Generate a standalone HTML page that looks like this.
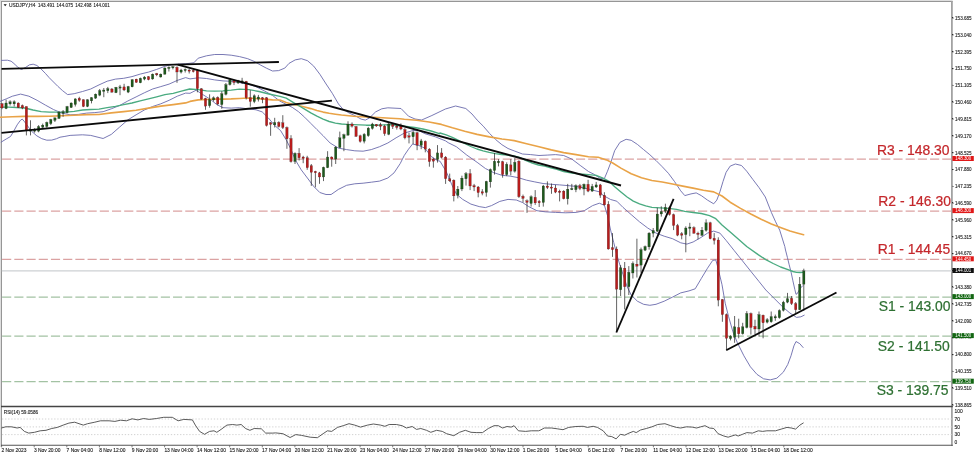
<!DOCTYPE html>
<html lang="en"><head><meta charset="utf-8"><title>USDJPY H4</title>
<style>html,body{margin:0;padding:0;background:#fff}body{width:975px;height:456px;overflow:hidden}svg{display:block}text{font-family:"Liberation Sans",Arial,sans-serif}.t{font-size:4.9px;fill:#222}.b{font-size:13.9px}.h{stroke:#222;stroke-width:0.12px}.bx{font-size:4.7px;fill:#fff}</style>
</head><body>
<svg width="975" height="456" viewBox="0 0 975 456">
<rect width="975" height="456" fill="#fff"/>
<rect x="0" y="0" width="952.6" height="1.1" fill="#dedede"/>
<rect x="0" y="0" width="1.1" height="447" fill="#dedede"/>
<g fill="none">
<path d="M1 1.5H952.6" stroke="#8a8a8a" stroke-width="0.9"/>
<path d="M1.5 1V446" stroke="#8a8a8a" stroke-width="0.9"/>
<path d="M951.9 1V446" stroke="#a2a2a2" stroke-width="1.8"/>
<path d="M1 406.5H952.8" stroke="#444" stroke-width="1.3"/>
<path d="M1 445.3H952.8" stroke="#555" stroke-width="1.1"/>
</g>
<path d="M1.8 159.0H952" stroke="#dba2a2" stroke-width="1.25" fill="none" stroke-dasharray="9.15 3.06" stroke-dashoffset="11.92"/>
<path d="M1.8 211.1H952" stroke="#dba2a2" stroke-width="1.25" fill="none" stroke-dasharray="9.15 3.06" stroke-dashoffset="11.92"/>
<path d="M1.8 259.3H952" stroke="#dba2a2" stroke-width="1.25" fill="none" stroke-dasharray="9.15 3.06" stroke-dashoffset="11.92"/>
<path d="M1.8 297.1H952" stroke="#a3c2a3" stroke-width="1.25" fill="none" stroke-dasharray="9.15 3.06" stroke-dashoffset="11.92"/>
<path d="M1.8 336.1H952" stroke="#a3c2a3" stroke-width="1.25" fill="none" stroke-dasharray="9.15 3.06" stroke-dashoffset="11.92"/>
<path d="M1.8 381.7H952" stroke="#a3c2a3" stroke-width="1.25" fill="none" stroke-dasharray="9.15 3.06" stroke-dashoffset="11.92"/>
<path d="M1.8 270.9H952" stroke="#cdd0d3" stroke-width="1.25" fill="none"/>
<g fill="none" stroke-linejoin="round" stroke-linecap="round">
<polyline points="1.5,60.4 7.4,60.2 11.1,61.2 14.8,64.2 17.8,67.3 21.5,69.5 25.8,67.3 29.5,64.8 33.2,64.2 36.9,65.5 40.6,68.5 45.5,73.5 49.2,77.7 53.5,82.0 57.8,86.3 62.5,90.6 67.6,94.6 74.2,93.7 82.5,91.5 90.7,89.0 99.0,84.9 107.2,81.2 115.5,79.1 123.7,78.3 132.0,76.6 140.2,74.1 148.5,72.1 156.7,69.4 164.9,66.3 171.1,64.7 177.3,64.2 185.6,63.8 193.8,62.8 198.2,58.2 206.5,55.8 214.7,54.5 223.0,54.5 231.2,55.2 239.5,56.6 247.7,58.7 253.9,61.3 260.1,64.8 266.3,68.1 272.5,71.0 278.7,70.6 284.8,68.1 289.0,63.4 295.2,59.9 301.3,58.7 307.5,60.7 313.7,66.1 319.9,74.3 326.1,84.0 332.3,93.3 338.5,104.0 342.6,108.8 348.8,112.9 354.9,115.6 361.1,119.1 365.3,120.1 369.4,118.0 375.6,111.9 381.8,108.8 387.8,107.8 401.0,108.5 408.5,116.2 415.0,119.0 421.7,120.0 431.9,115.5 445.4,109.0 455.6,106.0 465.8,108.5 472.0,114.0 477.1,120.0 483.3,126.2 489.5,133.4 495.7,139.6 501.9,144.7 508.0,148.5 514.2,150.9 522.5,154.0 530.7,154.6 539.0,155.5 547.2,155.1 555.5,154.6 563.7,155.5 572.0,159.2 580.2,165.4 588.5,171.5 590.0,172.3 594.1,174.3 600.3,178.5 604.4,178.5 607.5,171.2 610.6,163.0 614.7,150.6 619.9,142.4 626.1,139.3 631.2,140.3 637.4,144.4 643.6,149.6 649.8,154.7 656.0,160.5 662.2,166.7 668.4,173.3 674.5,181.5 680.7,190.8 684.8,195.6 691.0,193.9 696.2,192.9 701.3,195.6 707.5,200.1 713.7,203.8 716.8,200.1 719.9,191.9 723.0,181.5 726.1,172.3 730.2,166.1 735.4,164.0 741.5,165.5 746.7,171.2 752.9,179.5 759.1,187.7 765.3,197.0 771.4,212.5 775.6,221.8 779.7,230.1 784.8,246.5 785.5,250.0 787.4,257.4 789.2,264.8 791.1,272.2 792.9,280.8 794.8,289.4 796.0,294.3 797.2,293.7 800.3,288.2 802.8,285.7" stroke="#6a6aac" stroke-width="0.9"/>
<polyline points="0.0,101.4 6.2,98.9 12.4,96.2 20.6,94.1 28.9,96.2 37.1,100.3 45.4,105.1 53.6,109.6 61.9,113.1 70.1,114.8 78.4,114.4 86.6,113.1 94.8,112.6 103.1,111.7 111.3,108.8 119.6,105.5 127.8,101.0 136.1,96.9 144.3,92.8 152.6,89.0 160.8,86.6 169.1,84.1 177.3,80.4 185.6,77.6 190.0,78.9 198.2,77.8 206.5,78.5 214.7,79.9 223.0,80.9 231.2,81.3 239.5,82.6 247.7,84.0 256.0,86.7 264.2,90.8 272.5,95.4 280.0,101.2 292.3,107.4 298.5,111.7 304.6,117.2 310.8,123.4 316.9,129.5 323.1,135.7 330.1,143.0 338.4,148.1 346.6,149.6 354.8,150.8 363.1,151.2 371.3,149.6 379.6,146.7 387.8,143.0 396.1,137.8 404.3,133.1 412.6,130.6 418.8,130.6 424.9,133.7 435.3,136.8 445.6,140.9 448.2,142.7 456.5,146.8 466.8,155.1 477.1,162.3 485.4,168.5 493.6,172.6 501.9,175.3 510.1,176.1 518.4,177.7 526.6,180.2 534.8,181.9 543.1,183.5 551.3,184.3 559.6,184.9 567.8,185.6 576.1,186.4 584.3,188.0 592.6,190.1 600.8,192.2 602.4,195.0 610.6,199.5 616.8,201.2 623.0,207.4 631.2,214.6 639.5,221.8 647.7,228.0 656.0,233.1 664.2,236.2 672.5,238.7 680.7,242.8 686.9,244.1 693.1,242.0 701.3,237.3 707.5,233.1 713.7,231.1 719.9,233.1 726.1,240.4 734.3,250.7 742.6,261.0 750.8,271.3 759.1,281.6 765.8,290.0 774.6,298.8 783.3,307.5 789.9,313.0 796.5,317.4 800.9,316.8 804.2,315.2" stroke="#6a6aac" stroke-width="0.9"/>
<polyline points="1.2,142.1 6.2,139.0 10.5,136.5 13.5,131.6 17.2,124.8 20.3,120.5 22.2,119.0 24.6,121.8 27.7,126.1 32.0,131.6 36.9,135.9 41.8,138.7 46.8,140.2 51.7,140.1 56.6,138.7 60.0,137.2 64.9,136.4 70.1,135.4 82.5,134.8 90.7,135.4 103.1,138.5 111.3,134.4 119.6,127.1 127.8,119.9 136.1,114.8 144.3,110.0 152.6,106.5 160.8,103.8 169.1,100.3 177.3,96.2 185.6,93.1 190.0,93.3 196.2,90.2 202.4,94.3 210.6,99.5 216.8,104.6 223.0,107.7 231.2,108.1 239.5,107.7 247.7,108.8 256.0,109.8 262.2,111.9 268.4,118.0 274.5,125.3 280.6,130.6 286.8,140.9 290.9,149.2 295.1,159.5 301.2,169.8 307.4,178.0 313.6,186.3 319.8,192.5 326.0,194.5 331.1,194.5 338.4,189.4 346.6,185.3 354.8,183.8 363.1,183.2 371.3,182.2 379.6,181.1 387.8,178.0 394.0,172.9 400.2,163.6 404.3,155.4 408.5,149.2 412.6,144.0 418.8,145.5 424.9,148.1 431.1,156.4 437.3,160.5 440.0,161.2 446.2,171.5 452.4,186.0 456.5,194.2 462.7,199.4 470.9,204.1 479.2,206.6 485.4,207.6 491.5,205.6 499.8,201.4 508.0,199.4 516.3,200.0 522.5,202.5 528.7,206.6 536.9,210.7 545.2,211.8 555.5,212.4 565.8,212.8 576.1,212.4 584.3,210.7 592.6,205.6 599.3,203.2 604.4,205.3 607.5,215.6 610.6,230.1 613.7,242.4 616.8,254.8 620.9,268.2 623.0,274.4 627.1,286.7 631.2,295.0 637.4,301.2 643.6,304.3 649.8,305.3 656.0,304.3 664.2,301.2 672.5,297.1 680.7,292.9 689.0,290.9 695.2,288.8 701.3,278.5 707.5,268.2 712.7,260.4 715.8,259.9 717.8,267.2 722.0,284.7 725.2,303.2 728.5,316.3 732.9,331.7 737.3,342.6 743.9,355.8 750.4,366.8 757.0,374.4 763.6,378.8 770.2,379.9 776.8,378.2 783.3,372.2 787.7,364.6 791.0,355.8 793.9,345.9 796.0,341.5 799.8,343.7 803.1,347.5" stroke="#6a6aac" stroke-width="0.9"/>
<polyline points="0.0,117.2 12.4,116.8 24.7,116.4 37.1,116.4 49.5,116.2 61.9,115.8 74.2,115.2 86.6,114.6 99.0,114.5 111.3,112.9 123.7,111.6 136.1,110.2 148.5,108.1 160.8,106.1 173.2,104.6 185.6,102.9 190.0,101.4 198.2,99.9 206.5,99.5 214.7,99.1 223.0,99.1 231.2,98.9 239.5,98.5 247.7,98.0 256.0,98.5 264.2,99.1 272.5,99.9 280.0,100.0 286.2,102.5 292.3,104.3 298.5,105.5 304.6,107.1 310.8,108.6 316.9,110.5 323.1,112.1 329.2,113.3 335.4,114.2 341.5,115.0 353.8,116.2 366.2,117.0 378.5,117.5 390.8,118.2 400.0,118.7 404.3,119.3 416.7,120.3 429.1,122.0 441.4,124.4 452.4,127.8 464.7,131.3 477.1,134.4 489.5,136.9 501.9,139.0 514.2,140.6 526.6,143.7 539.0,146.8 551.3,149.9 563.7,152.6 576.1,154.6 588.5,156.7 598.2,157.2 606.5,159.9 612.7,163.0 620.9,168.1 631.2,173.7 641.5,177.8 651.9,180.5 662.2,182.0 672.5,184.0 682.8,186.1 693.1,188.1 703.4,190.2 713.7,191.9 722.0,196.0 730.2,202.2 740.5,208.4 750.8,214.0 761.1,219.3 771.4,223.9 781.8,228.0 790.0,231.1 797.0,233.0 803.6,234.7" stroke="#e9a347" stroke-width="1.6"/>
<polyline points="0.0,107.1 8.2,107.1 16.5,107.5 24.7,108.0 33.0,110.0 41.2,111.7 49.5,112.1 57.7,112.1 66.0,112.1 74.2,111.3 82.5,110.0 90.7,109.5 99.0,109.1 107.2,107.7 115.5,106.3 123.7,104.6 132.0,103.0 140.2,100.9 148.5,98.8 156.7,96.8 164.9,94.7 173.2,93.3 181.4,91.2 189.7,89.0 198.2,89.6 206.5,90.8 214.7,91.2 223.0,90.8 231.2,90.2 239.5,89.2 249.2,89.7 259.1,91.5 268.9,94.0 280.0,96.3 286.2,98.2 292.3,101.8 298.5,105.5 304.6,109.2 310.8,112.9 316.9,116.2 323.1,119.1 329.2,121.5 335.4,123.1 341.5,124.0 346.5,124.4 353.8,124.6 366.2,125.2 378.5,125.2 390.8,124.6 398.1,125.5 406.4,126.5 414.6,127.5 422.9,129.0 431.1,131.0 439.4,133.7 440.0,133.0 446.2,134.8 452.3,137.3 458.5,140.4 464.6,143.5 470.8,146.5 476.9,149.0 483.1,150.8 489.2,152.3 495.4,153.6 501.5,154.5 507.7,155.2 513.8,155.8 518.8,157.2 526.2,160.7 532.3,163.2 538.5,165.0 544.6,166.2 550.8,167.8 556.9,169.3 563.7,171.5 572.0,173.2 580.2,174.0 588.5,174.6 596.2,175.4 602.4,177.8 608.6,181.1 614.7,186.7 620.9,191.9 627.1,197.0 633.3,201.1 639.5,203.8 645.7,205.9 651.9,207.3 660.1,207.9 668.4,208.4 676.6,209.4 684.8,211.4 693.1,212.5 701.3,213.5 709.6,215.6 715.8,218.7 722.0,224.9 730.2,232.1 738.5,239.3 746.7,246.5 758.5,254.9 765.8,259.6 773.2,263.5 780.6,267.0 788.0,269.7 792.9,271.5 796.6,272.4 800.3,272.5 802.8,272.4" stroke="#4aab80" stroke-width="1.35"/>
</g>
<g>
<path d="M2.0 103.0V109.2" stroke="#262626" stroke-width="0.72"/>
<rect x="0.8" y="103.8" width="2.4" height="4.1" fill="#b81c1c" stroke="#2a1a1a" stroke-width="0.2"/>
<path d="M6.1 99.7V109.2" stroke="#262626" stroke-width="0.72"/>
<rect x="4.9" y="103.0" width="2.4" height="5.6" fill="#1d5a1d" stroke="#2a1a1a" stroke-width="0.2"/>
<path d="M10.1 100.3V105.5" stroke="#262626" stroke-width="0.72"/>
<rect x="8.9" y="101.8" width="2.4" height="2.1" fill="#1d5a1d" stroke="#2a1a1a" stroke-width="0.2"/>
<path d="M14.2 100.3V106.5" stroke="#262626" stroke-width="0.72"/>
<rect x="13.0" y="101.8" width="2.4" height="2.1" fill="#1d5a1d" stroke="#2a1a1a" stroke-width="0.2"/>
<path d="M18.3 102.4V108.0" stroke="#262626" stroke-width="0.72"/>
<rect x="17.1" y="103.0" width="2.4" height="4.5" fill="#b81c1c" stroke="#2a1a1a" stroke-width="0.2"/>
<path d="M22.4 104.5V109.2" stroke="#262626" stroke-width="0.72"/>
<rect x="21.2" y="105.5" width="2.4" height="2.5" fill="#b81c1c" stroke="#2a1a1a" stroke-width="0.2"/>
<path d="M26.4 106.5V135.4" stroke="#262626" stroke-width="0.72"/>
<rect x="25.2" y="106.5" width="2.4" height="24.1" fill="#b81c1c" stroke="#2a1a1a" stroke-width="0.2"/>
<path d="M30.5 120.3V135.4" stroke="#262626" stroke-width="0.72"/>
<rect x="29.3" y="129.2" width="2.4" height="2.1" fill="#1d5a1d" stroke="#2a1a1a" stroke-width="0.2"/>
<path d="M34.6 128.2V132.7" stroke="#262626" stroke-width="0.72"/>
<rect x="33.4" y="129.2" width="2.4" height="2.1" fill="#1d5a1d" stroke="#2a1a1a" stroke-width="0.2"/>
<path d="M38.6 125.1V132.3" stroke="#262626" stroke-width="0.72"/>
<rect x="37.4" y="126.5" width="2.4" height="4.7" fill="#1d5a1d" stroke="#2a1a1a" stroke-width="0.2"/>
<path d="M42.7 123.6V128.6" stroke="#262626" stroke-width="0.72"/>
<rect x="41.5" y="125.1" width="2.4" height="2.1" fill="#1d5a1d" stroke="#2a1a1a" stroke-width="0.2"/>
<path d="M46.8 121.6V127.8" stroke="#262626" stroke-width="0.72"/>
<rect x="45.6" y="122.4" width="2.4" height="4.1" fill="#1d5a1d" stroke="#2a1a1a" stroke-width="0.2"/>
<path d="M50.8 118.9V125.1" stroke="#262626" stroke-width="0.72"/>
<rect x="49.6" y="119.5" width="2.4" height="4.1" fill="#1d5a1d" stroke="#2a1a1a" stroke-width="0.2"/>
<path d="M54.9 117.4V122.0" stroke="#262626" stroke-width="0.72"/>
<rect x="53.7" y="117.9" width="2.4" height="2.5" fill="#1d5a1d" stroke="#2a1a1a" stroke-width="0.2"/>
<path d="M59.0 111.3V118.9" stroke="#262626" stroke-width="0.72"/>
<rect x="57.8" y="112.1" width="2.4" height="6.4" fill="#1d5a1d" stroke="#2a1a1a" stroke-width="0.2"/>
<path d="M63.1 110.0V116.8" stroke="#262626" stroke-width="0.72"/>
<rect x="61.9" y="111.7" width="2.4" height="1.6" fill="#1d5a1d" stroke="#2a1a1a" stroke-width="0.2"/>
<path d="M67.1 105.9V113.3" stroke="#262626" stroke-width="0.72"/>
<rect x="65.9" y="106.5" width="2.4" height="6.2" fill="#1d5a1d" stroke="#2a1a1a" stroke-width="0.2"/>
<path d="M71.2 102.4V108.0" stroke="#262626" stroke-width="0.72"/>
<rect x="70.0" y="103.0" width="2.4" height="4.5" fill="#1d5a1d" stroke="#2a1a1a" stroke-width="0.2"/>
<path d="M75.3 98.3V106.5" stroke="#262626" stroke-width="0.72"/>
<rect x="74.1" y="98.9" width="2.4" height="5.6" fill="#1d5a1d" stroke="#2a1a1a" stroke-width="0.2"/>
<path d="M79.3 96.8V101.8" stroke="#262626" stroke-width="0.72"/>
<rect x="78.1" y="98.3" width="2.4" height="2.1" fill="#b81c1c" stroke="#2a1a1a" stroke-width="0.2"/>
<path d="M83.4 99.3V107.1" stroke="#262626" stroke-width="0.72"/>
<rect x="82.2" y="99.7" width="2.4" height="6.8" fill="#b81c1c" stroke="#2a1a1a" stroke-width="0.2"/>
<path d="M87.5 99.3V107.1" stroke="#262626" stroke-width="0.72"/>
<rect x="86.3" y="99.7" width="2.4" height="6.8" fill="#1d5a1d" stroke="#2a1a1a" stroke-width="0.2"/>
<path d="M91.5 97.2V103.4" stroke="#262626" stroke-width="0.72"/>
<rect x="90.3" y="97.6" width="2.4" height="3.3" fill="#1d5a1d" stroke="#2a1a1a" stroke-width="0.2"/>
<path d="M95.6 93.5V98.9" stroke="#262626" stroke-width="0.72"/>
<rect x="94.4" y="94.1" width="2.4" height="4.1" fill="#1d5a1d" stroke="#2a1a1a" stroke-width="0.2"/>
<path d="M99.7 89.0V96.2" stroke="#262626" stroke-width="0.72"/>
<rect x="98.5" y="90.6" width="2.4" height="4.5" fill="#1d5a1d" stroke="#2a1a1a" stroke-width="0.2"/>
<path d="M103.8 88.0V97.2" stroke="#262626" stroke-width="0.72"/>
<rect x="102.5" y="90.0" width="2.4" height="1.4" fill="#1d5a1d" stroke="#2a1a1a" stroke-width="0.2"/>
<path d="M107.8 86.9V93.1" stroke="#262626" stroke-width="0.72"/>
<rect x="106.6" y="88.6" width="2.4" height="2.1" fill="#1d5a1d" stroke="#2a1a1a" stroke-width="0.2"/>
<path d="M111.9 88.0V92.7" stroke="#262626" stroke-width="0.72"/>
<rect x="110.7" y="89.0" width="2.4" height="3.1" fill="#b81c1c" stroke="#2a1a1a" stroke-width="0.2"/>
<path d="M116.0 86.9V93.1" stroke="#262626" stroke-width="0.72"/>
<rect x="114.8" y="87.3" width="2.4" height="5.4" fill="#1d5a1d" stroke="#2a1a1a" stroke-width="0.2"/>
<path d="M120.0 84.9V95.2" stroke="#262626" stroke-width="0.72"/>
<rect x="118.8" y="86.9" width="2.4" height="1.2" fill="#1d5a1d" stroke="#2a1a1a" stroke-width="0.2"/>
<path d="M124.1 83.8V91.1" stroke="#262626" stroke-width="0.72"/>
<rect x="122.9" y="86.9" width="2.4" height="3.1" fill="#b81c1c" stroke="#2a1a1a" stroke-width="0.2"/>
<path d="M128.2 85.9V93.1" stroke="#262626" stroke-width="0.72"/>
<rect x="127.0" y="86.5" width="2.4" height="5.6" fill="#1d5a1d" stroke="#2a1a1a" stroke-width="0.2"/>
<path d="M132.2 79.1V87.3" stroke="#262626" stroke-width="0.72"/>
<rect x="131.0" y="79.7" width="2.4" height="7.2" fill="#1d5a1d" stroke="#2a1a1a" stroke-width="0.2"/>
<path d="M136.3 78.7V82.8" stroke="#262626" stroke-width="0.72"/>
<rect x="135.1" y="79.1" width="2.4" height="3.3" fill="#b81c1c" stroke="#2a1a1a" stroke-width="0.2"/>
<path d="M140.4 77.6V83.2" stroke="#262626" stroke-width="0.72"/>
<rect x="139.2" y="78.3" width="2.4" height="4.5" fill="#1d5a1d" stroke="#2a1a1a" stroke-width="0.2"/>
<path d="M144.5 76.2V80.3" stroke="#262626" stroke-width="0.72"/>
<rect x="143.3" y="77.0" width="2.4" height="2.1" fill="#1d5a1d" stroke="#2a1a1a" stroke-width="0.2"/>
<path d="M148.5 76.2V80.3" stroke="#262626" stroke-width="0.72"/>
<rect x="147.3" y="76.6" width="2.4" height="3.1" fill="#b81c1c" stroke="#2a1a1a" stroke-width="0.2"/>
<path d="M152.6 73.5V79.7" stroke="#262626" stroke-width="0.72"/>
<rect x="151.4" y="74.1" width="2.4" height="4.9" fill="#1d5a1d" stroke="#2a1a1a" stroke-width="0.2"/>
<path d="M156.7 72.9V76.2" stroke="#262626" stroke-width="0.72"/>
<rect x="155.5" y="73.5" width="2.4" height="1.4" fill="#b81c1c" stroke="#2a1a1a" stroke-width="0.2"/>
<path d="M160.7 73.5V77.6" stroke="#262626" stroke-width="0.72"/>
<rect x="159.5" y="74.1" width="2.4" height="2.9" fill="#1d5a1d" stroke="#2a1a1a" stroke-width="0.2"/>
<path d="M164.8 67.3V74.6" stroke="#262626" stroke-width="0.72"/>
<rect x="163.6" y="68.0" width="2.4" height="6.2" fill="#1d5a1d" stroke="#2a1a1a" stroke-width="0.2"/>
<path d="M168.9 66.3V71.5" stroke="#262626" stroke-width="0.72"/>
<rect x="167.7" y="67.3" width="2.4" height="1.2" fill="#1d5a1d" stroke="#2a1a1a" stroke-width="0.2"/>
<path d="M172.9 65.9V69.4" stroke="#262626" stroke-width="0.72"/>
<rect x="171.7" y="66.7" width="2.4" height="1.2" fill="#1d5a1d" stroke="#2a1a1a" stroke-width="0.2"/>
<path d="M177.0 66.3V82.8" stroke="#262626" stroke-width="0.72"/>
<rect x="175.8" y="67.3" width="2.4" height="4.7" fill="#b81c1c" stroke="#2a1a1a" stroke-width="0.2"/>
<path d="M181.1 68.8V73.5" stroke="#262626" stroke-width="0.72"/>
<rect x="179.9" y="70.0" width="2.4" height="2.1" fill="#1d5a1d" stroke="#2a1a1a" stroke-width="0.2"/>
<path d="M185.2 68.4V72.5" stroke="#262626" stroke-width="0.72"/>
<rect x="184.0" y="69.4" width="2.4" height="1.2" fill="#1d5a1d" stroke="#2a1a1a" stroke-width="0.2"/>
<path d="M189.2 68.8V73.5" stroke="#262626" stroke-width="0.72"/>
<rect x="188.0" y="70.0" width="2.4" height="1.2" fill="#b81c1c" stroke="#2a1a1a" stroke-width="0.2"/>
<path d="M193.3 69.4V72.5" stroke="#262626" stroke-width="0.72"/>
<rect x="192.1" y="70.4" width="2.4" height="1.2" fill="#b81c1c" stroke="#2a1a1a" stroke-width="0.2"/>
<path d="M197.4 69.6V92.3" stroke="#262626" stroke-width="0.72"/>
<rect x="196.2" y="70.6" width="2.4" height="18.1" fill="#b81c1c" stroke="#2a1a1a" stroke-width="0.2"/>
<path d="M201.4 88.1V99.5" stroke="#262626" stroke-width="0.72"/>
<rect x="200.2" y="88.8" width="2.4" height="10.3" fill="#b81c1c" stroke="#2a1a1a" stroke-width="0.2"/>
<path d="M205.5 97.8V109.8" stroke="#262626" stroke-width="0.72"/>
<rect x="204.3" y="98.5" width="2.4" height="7.6" fill="#b81c1c" stroke="#2a1a1a" stroke-width="0.2"/>
<path d="M209.6 94.3V107.7" stroke="#262626" stroke-width="0.72"/>
<rect x="208.4" y="99.5" width="2.4" height="6.2" fill="#1d5a1d" stroke="#2a1a1a" stroke-width="0.2"/>
<path d="M213.6 96.4V101.5" stroke="#262626" stroke-width="0.72"/>
<rect x="212.4" y="97.8" width="2.4" height="2.1" fill="#1d5a1d" stroke="#2a1a1a" stroke-width="0.2"/>
<path d="M217.7 96.4V105.3" stroke="#262626" stroke-width="0.72"/>
<rect x="216.5" y="97.4" width="2.4" height="6.6" fill="#b81c1c" stroke="#2a1a1a" stroke-width="0.2"/>
<path d="M221.8 91.2V108.8" stroke="#262626" stroke-width="0.72"/>
<rect x="220.6" y="93.7" width="2.4" height="10.9" fill="#1d5a1d" stroke="#2a1a1a" stroke-width="0.2"/>
<path d="M225.9 83.0V95.4" stroke="#262626" stroke-width="0.72"/>
<rect x="224.7" y="84.6" width="2.4" height="9.7" fill="#1d5a1d" stroke="#2a1a1a" stroke-width="0.2"/>
<path d="M229.9 78.5V85.5" stroke="#262626" stroke-width="0.72"/>
<rect x="228.7" y="79.9" width="2.4" height="4.7" fill="#1d5a1d" stroke="#2a1a1a" stroke-width="0.2"/>
<path d="M234.0 79.9V85.1" stroke="#262626" stroke-width="0.72"/>
<rect x="232.8" y="80.9" width="2.4" height="1.6" fill="#b81c1c" stroke="#2a1a1a" stroke-width="0.2"/>
<path d="M238.1 79.9V84.0" stroke="#262626" stroke-width="0.72"/>
<rect x="236.9" y="80.5" width="2.4" height="2.5" fill="#1d5a1d" stroke="#2a1a1a" stroke-width="0.2"/>
<path d="M242.1 77.8V84.0" stroke="#262626" stroke-width="0.72"/>
<rect x="240.9" y="80.9" width="2.4" height="1.6" fill="#1d5a1d" stroke="#2a1a1a" stroke-width="0.2"/>
<path d="M246.2 80.9V99.5" stroke="#262626" stroke-width="0.72"/>
<rect x="245.0" y="81.3" width="2.4" height="16.5" fill="#b81c1c" stroke="#2a1a1a" stroke-width="0.2"/>
<path d="M250.3 90.2V106.7" stroke="#262626" stroke-width="0.72"/>
<rect x="249.1" y="97.8" width="2.4" height="3.7" fill="#b81c1c" stroke="#2a1a1a" stroke-width="0.2"/>
<path d="M254.3 94.3V103.2" stroke="#262626" stroke-width="0.72"/>
<rect x="253.1" y="95.8" width="2.4" height="5.8" fill="#1d5a1d" stroke="#2a1a1a" stroke-width="0.2"/>
<path d="M258.4 94.9V101.5" stroke="#262626" stroke-width="0.72"/>
<rect x="257.2" y="97.0" width="2.4" height="2.1" fill="#1d5a1d" stroke="#2a1a1a" stroke-width="0.2"/>
<path d="M262.5 97.0V103.2" stroke="#262626" stroke-width="0.72"/>
<rect x="261.3" y="97.8" width="2.4" height="1.6" fill="#b81c1c" stroke="#2a1a1a" stroke-width="0.2"/>
<path d="M266.6 97.0V126.5" stroke="#262626" stroke-width="0.72"/>
<rect x="265.4" y="97.8" width="2.4" height="27.7" fill="#b81c1c" stroke="#2a1a1a" stroke-width="0.2"/>
<path d="M270.6 122.0V135.8" stroke="#262626" stroke-width="0.72"/>
<rect x="269.4" y="122.8" width="2.4" height="1.6" fill="#b81c1c" stroke="#2a1a1a" stroke-width="0.2"/>
<path d="M274.7 117.8V127.5" stroke="#262626" stroke-width="0.72"/>
<rect x="273.5" y="122.4" width="2.4" height="2.5" fill="#1d5a1d" stroke="#2a1a1a" stroke-width="0.2"/>
<path d="M278.8 121.3V127.5" stroke="#262626" stroke-width="0.72"/>
<rect x="277.6" y="122.4" width="2.4" height="4.1" fill="#b81c1c" stroke="#2a1a1a" stroke-width="0.2"/>
<path d="M282.8 115.2V129.0" stroke="#262626" stroke-width="0.72"/>
<rect x="281.6" y="122.8" width="2.4" height="4.7" fill="#b81c1c" stroke="#2a1a1a" stroke-width="0.2"/>
<path d="M286.9 126.5V148.8" stroke="#262626" stroke-width="0.72"/>
<rect x="285.7" y="127.5" width="2.4" height="11.3" fill="#b81c1c" stroke="#2a1a1a" stroke-width="0.2"/>
<path d="M291.0 135.2V162.6" stroke="#262626" stroke-width="0.72"/>
<rect x="289.8" y="138.5" width="2.4" height="23.1" fill="#b81c1c" stroke="#2a1a1a" stroke-width="0.2"/>
<path d="M295.0 152.3V164.0" stroke="#262626" stroke-width="0.72"/>
<rect x="293.8" y="153.3" width="2.4" height="8.2" fill="#1d5a1d" stroke="#2a1a1a" stroke-width="0.2"/>
<path d="M299.1 148.1V160.5" stroke="#262626" stroke-width="0.72"/>
<rect x="297.9" y="153.3" width="2.4" height="4.5" fill="#b81c1c" stroke="#2a1a1a" stroke-width="0.2"/>
<path d="M303.2 155.8V163.2" stroke="#262626" stroke-width="0.72"/>
<rect x="302.0" y="157.0" width="2.4" height="1.4" fill="#b81c1c" stroke="#2a1a1a" stroke-width="0.2"/>
<path d="M307.2 155.8V169.8" stroke="#262626" stroke-width="0.72"/>
<rect x="306.1" y="157.8" width="2.4" height="9.9" fill="#b81c1c" stroke="#2a1a1a" stroke-width="0.2"/>
<path d="M311.3 164.0V185.9" stroke="#262626" stroke-width="0.72"/>
<rect x="310.1" y="165.7" width="2.4" height="6.6" fill="#b81c1c" stroke="#2a1a1a" stroke-width="0.2"/>
<path d="M315.4 170.8V187.3" stroke="#262626" stroke-width="0.72"/>
<rect x="314.2" y="171.4" width="2.4" height="1.4" fill="#b81c1c" stroke="#2a1a1a" stroke-width="0.2"/>
<path d="M319.5 171.9V183.8" stroke="#262626" stroke-width="0.72"/>
<rect x="318.3" y="172.9" width="2.4" height="4.1" fill="#b81c1c" stroke="#2a1a1a" stroke-width="0.2"/>
<path d="M323.5 166.7V181.1" stroke="#262626" stroke-width="0.72"/>
<rect x="322.3" y="167.3" width="2.4" height="9.7" fill="#1d5a1d" stroke="#2a1a1a" stroke-width="0.2"/>
<path d="M327.6 151.2V168.1" stroke="#262626" stroke-width="0.72"/>
<rect x="326.4" y="157.0" width="2.4" height="10.7" fill="#1d5a1d" stroke="#2a1a1a" stroke-width="0.2"/>
<path d="M331.7 156.4V166.7" stroke="#262626" stroke-width="0.72"/>
<rect x="330.5" y="157.0" width="2.4" height="2.1" fill="#b81c1c" stroke="#2a1a1a" stroke-width="0.2"/>
<path d="M335.7 146.1V164.0" stroke="#262626" stroke-width="0.72"/>
<rect x="334.5" y="147.1" width="2.4" height="12.0" fill="#1d5a1d" stroke="#2a1a1a" stroke-width="0.2"/>
<path d="M339.8 131.6V148.1" stroke="#262626" stroke-width="0.72"/>
<rect x="338.6" y="137.8" width="2.4" height="9.7" fill="#1d5a1d" stroke="#2a1a1a" stroke-width="0.2"/>
<path d="M343.9 133.7V151.2" stroke="#262626" stroke-width="0.72"/>
<rect x="342.7" y="134.7" width="2.4" height="3.7" fill="#1d5a1d" stroke="#2a1a1a" stroke-width="0.2"/>
<path d="M348.0 121.3V135.8" stroke="#262626" stroke-width="0.72"/>
<rect x="346.8" y="124.0" width="2.4" height="11.1" fill="#1d5a1d" stroke="#2a1a1a" stroke-width="0.2"/>
<path d="M352.0 122.4V127.5" stroke="#262626" stroke-width="0.72"/>
<rect x="350.8" y="124.0" width="2.4" height="2.1" fill="#b81c1c" stroke="#2a1a1a" stroke-width="0.2"/>
<path d="M356.1 126.1V136.8" stroke="#262626" stroke-width="0.72"/>
<rect x="354.9" y="126.5" width="2.4" height="9.9" fill="#b81c1c" stroke="#2a1a1a" stroke-width="0.2"/>
<path d="M360.2 134.7V142.6" stroke="#262626" stroke-width="0.72"/>
<rect x="359.0" y="135.8" width="2.4" height="5.6" fill="#b81c1c" stroke="#2a1a1a" stroke-width="0.2"/>
<path d="M364.2 133.1V143.4" stroke="#262626" stroke-width="0.72"/>
<rect x="363.0" y="134.3" width="2.4" height="7.0" fill="#1d5a1d" stroke="#2a1a1a" stroke-width="0.2"/>
<path d="M368.3 126.9V136.8" stroke="#262626" stroke-width="0.72"/>
<rect x="367.1" y="128.1" width="2.4" height="7.6" fill="#1d5a1d" stroke="#2a1a1a" stroke-width="0.2"/>
<path d="M372.4 122.8V129.6" stroke="#262626" stroke-width="0.72"/>
<rect x="371.2" y="124.0" width="2.4" height="4.5" fill="#1d5a1d" stroke="#2a1a1a" stroke-width="0.2"/>
<path d="M376.4 124.0V126.9" stroke="#262626" stroke-width="0.72"/>
<rect x="375.2" y="124.4" width="2.4" height="1.6" fill="#b81c1c" stroke="#2a1a1a" stroke-width="0.2"/>
<path d="M380.5 122.8V130.2" stroke="#262626" stroke-width="0.72"/>
<rect x="379.3" y="124.8" width="2.4" height="1.6" fill="#b81c1c" stroke="#2a1a1a" stroke-width="0.2"/>
<path d="M384.6 124.8V135.8" stroke="#262626" stroke-width="0.72"/>
<rect x="383.4" y="126.1" width="2.4" height="7.6" fill="#b81c1c" stroke="#2a1a1a" stroke-width="0.2"/>
<path d="M388.7 122.4V135.2" stroke="#262626" stroke-width="0.72"/>
<rect x="387.5" y="124.0" width="2.4" height="10.3" fill="#1d5a1d" stroke="#2a1a1a" stroke-width="0.2"/>
<path d="M392.7 123.4V129.0" stroke="#262626" stroke-width="0.72"/>
<rect x="391.5" y="124.4" width="2.4" height="2.1" fill="#b81c1c" stroke="#2a1a1a" stroke-width="0.2"/>
<path d="M396.8 124.8V129.6" stroke="#262626" stroke-width="0.72"/>
<rect x="395.6" y="126.1" width="2.4" height="1.4" fill="#b81c1c" stroke="#2a1a1a" stroke-width="0.2"/>
<path d="M400.9 123.4V130.2" stroke="#262626" stroke-width="0.72"/>
<rect x="399.7" y="126.1" width="2.4" height="2.9" fill="#b81c1c" stroke="#2a1a1a" stroke-width="0.2"/>
<path d="M404.9 128.1V139.3" stroke="#262626" stroke-width="0.72"/>
<rect x="403.7" y="129.6" width="2.4" height="8.2" fill="#b81c1c" stroke="#2a1a1a" stroke-width="0.2"/>
<path d="M409.0 132.7V143.4" stroke="#262626" stroke-width="0.72"/>
<rect x="407.8" y="135.8" width="2.4" height="1.4" fill="#b81c1c" stroke="#2a1a1a" stroke-width="0.2"/>
<path d="M413.1 130.6V144.0" stroke="#262626" stroke-width="0.72"/>
<rect x="411.9" y="132.3" width="2.4" height="4.5" fill="#1d5a1d" stroke="#2a1a1a" stroke-width="0.2"/>
<path d="M417.1 131.6V150.2" stroke="#262626" stroke-width="0.72"/>
<rect x="415.9" y="132.7" width="2.4" height="12.4" fill="#b81c1c" stroke="#2a1a1a" stroke-width="0.2"/>
<path d="M421.2 138.9V149.2" stroke="#262626" stroke-width="0.72"/>
<rect x="420.0" y="140.9" width="2.4" height="4.5" fill="#1d5a1d" stroke="#2a1a1a" stroke-width="0.2"/>
<path d="M425.3 140.5V152.3" stroke="#262626" stroke-width="0.72"/>
<rect x="424.1" y="141.3" width="2.4" height="7.8" fill="#b81c1c" stroke="#2a1a1a" stroke-width="0.2"/>
<path d="M429.4 148.1V166.7" stroke="#262626" stroke-width="0.72"/>
<rect x="428.2" y="149.2" width="2.4" height="12.4" fill="#b81c1c" stroke="#2a1a1a" stroke-width="0.2"/>
<path d="M433.4 157.8V167.7" stroke="#262626" stroke-width="0.72"/>
<rect x="432.2" y="159.1" width="2.4" height="2.1" fill="#b81c1c" stroke="#2a1a1a" stroke-width="0.2"/>
<path d="M437.5 145.1V162.6" stroke="#262626" stroke-width="0.72"/>
<rect x="436.3" y="152.9" width="2.4" height="6.6" fill="#1d5a1d" stroke="#2a1a1a" stroke-width="0.2"/>
<path d="M441.6 148.1V158.5" stroke="#262626" stroke-width="0.72"/>
<rect x="440.4" y="152.9" width="2.4" height="4.5" fill="#b81c1c" stroke="#2a1a1a" stroke-width="0.2"/>
<path d="M445.6 156.1V183.9" stroke="#262626" stroke-width="0.72"/>
<rect x="444.4" y="157.1" width="2.4" height="21.6" fill="#b81c1c" stroke="#2a1a1a" stroke-width="0.2"/>
<path d="M449.7 173.6V181.9" stroke="#262626" stroke-width="0.72"/>
<rect x="448.5" y="178.8" width="2.4" height="2.1" fill="#b81c1c" stroke="#2a1a1a" stroke-width="0.2"/>
<path d="M453.8 179.4V201.4" stroke="#262626" stroke-width="0.72"/>
<rect x="452.6" y="180.2" width="2.4" height="15.7" fill="#b81c1c" stroke="#2a1a1a" stroke-width="0.2"/>
<path d="M457.8 186.0V198.4" stroke="#262626" stroke-width="0.72"/>
<rect x="456.6" y="189.1" width="2.4" height="6.2" fill="#1d5a1d" stroke="#2a1a1a" stroke-width="0.2"/>
<path d="M461.9 175.7V191.1" stroke="#262626" stroke-width="0.72"/>
<rect x="460.7" y="178.1" width="2.4" height="10.9" fill="#1d5a1d" stroke="#2a1a1a" stroke-width="0.2"/>
<path d="M466.0 172.0V185.6" stroke="#262626" stroke-width="0.72"/>
<rect x="464.8" y="173.6" width="2.4" height="5.2" fill="#1d5a1d" stroke="#2a1a1a" stroke-width="0.2"/>
<path d="M470.1 169.1V190.1" stroke="#262626" stroke-width="0.72"/>
<rect x="468.9" y="173.6" width="2.4" height="12.4" fill="#b81c1c" stroke="#2a1a1a" stroke-width="0.2"/>
<path d="M474.1 183.9V191.1" stroke="#262626" stroke-width="0.72"/>
<rect x="472.9" y="185.6" width="2.4" height="1.4" fill="#b81c1c" stroke="#2a1a1a" stroke-width="0.2"/>
<path d="M478.2 186.0V197.3" stroke="#262626" stroke-width="0.72"/>
<rect x="477.0" y="187.0" width="2.4" height="5.6" fill="#b81c1c" stroke="#2a1a1a" stroke-width="0.2"/>
<path d="M482.3 189.1V195.3" stroke="#262626" stroke-width="0.72"/>
<rect x="481.1" y="191.8" width="2.4" height="1.4" fill="#b81c1c" stroke="#2a1a1a" stroke-width="0.2"/>
<path d="M486.3 180.8V196.7" stroke="#262626" stroke-width="0.72"/>
<rect x="485.1" y="181.4" width="2.4" height="11.1" fill="#1d5a1d" stroke="#2a1a1a" stroke-width="0.2"/>
<path d="M490.4 168.5V187.6" stroke="#262626" stroke-width="0.72"/>
<rect x="489.2" y="169.5" width="2.4" height="12.4" fill="#1d5a1d" stroke="#2a1a1a" stroke-width="0.2"/>
<path d="M494.5 153.0V174.6" stroke="#262626" stroke-width="0.72"/>
<rect x="493.3" y="161.2" width="2.4" height="9.3" fill="#1d5a1d" stroke="#2a1a1a" stroke-width="0.2"/>
<path d="M498.5 159.2V166.4" stroke="#262626" stroke-width="0.72"/>
<rect x="497.3" y="161.2" width="2.4" height="1.6" fill="#1d5a1d" stroke="#2a1a1a" stroke-width="0.2"/>
<path d="M502.6 160.8V177.7" stroke="#262626" stroke-width="0.72"/>
<rect x="501.4" y="161.6" width="2.4" height="13.0" fill="#b81c1c" stroke="#2a1a1a" stroke-width="0.2"/>
<path d="M506.7 162.3V176.1" stroke="#262626" stroke-width="0.72"/>
<rect x="505.5" y="164.3" width="2.4" height="10.3" fill="#1d5a1d" stroke="#2a1a1a" stroke-width="0.2"/>
<path d="M510.8 159.2V175.3" stroke="#262626" stroke-width="0.72"/>
<rect x="509.6" y="164.9" width="2.4" height="6.2" fill="#b81c1c" stroke="#2a1a1a" stroke-width="0.2"/>
<path d="M514.8 158.1V172.6" stroke="#262626" stroke-width="0.72"/>
<rect x="513.6" y="162.3" width="2.4" height="8.9" fill="#1d5a1d" stroke="#2a1a1a" stroke-width="0.2"/>
<path d="M518.9 160.2V197.9" stroke="#262626" stroke-width="0.72"/>
<rect x="517.7" y="161.2" width="2.4" height="35.5" fill="#b81c1c" stroke="#2a1a1a" stroke-width="0.2"/>
<path d="M523.0 194.6V202.5" stroke="#262626" stroke-width="0.72"/>
<rect x="521.8" y="196.3" width="2.4" height="2.1" fill="#b81c1c" stroke="#2a1a1a" stroke-width="0.2"/>
<path d="M527.0 199.4V212.8" stroke="#262626" stroke-width="0.72"/>
<rect x="525.8" y="200.8" width="2.4" height="1.6" fill="#b81c1c" stroke="#2a1a1a" stroke-width="0.2"/>
<path d="M531.1 195.3V206.6" stroke="#262626" stroke-width="0.72"/>
<rect x="529.9" y="196.7" width="2.4" height="6.8" fill="#1d5a1d" stroke="#2a1a1a" stroke-width="0.2"/>
<path d="M535.2 190.1V204.9" stroke="#262626" stroke-width="0.72"/>
<rect x="534.0" y="197.3" width="2.4" height="5.6" fill="#b81c1c" stroke="#2a1a1a" stroke-width="0.2"/>
<path d="M539.2 200.0V207.0" stroke="#262626" stroke-width="0.72"/>
<rect x="538.0" y="201.4" width="2.4" height="1.4" fill="#b81c1c" stroke="#2a1a1a" stroke-width="0.2"/>
<path d="M543.3 184.9V206.6" stroke="#262626" stroke-width="0.72"/>
<rect x="542.1" y="186.0" width="2.4" height="16.5" fill="#1d5a1d" stroke="#2a1a1a" stroke-width="0.2"/>
<path d="M547.4 181.4V189.1" stroke="#262626" stroke-width="0.72"/>
<rect x="546.2" y="186.0" width="2.4" height="1.6" fill="#b81c1c" stroke="#2a1a1a" stroke-width="0.2"/>
<path d="M551.5 183.5V193.8" stroke="#262626" stroke-width="0.72"/>
<rect x="550.2" y="187.0" width="2.4" height="1.2" fill="#b81c1c" stroke="#2a1a1a" stroke-width="0.2"/>
<path d="M555.5 184.9V193.2" stroke="#262626" stroke-width="0.72"/>
<rect x="554.3" y="188.0" width="2.4" height="4.1" fill="#b81c1c" stroke="#2a1a1a" stroke-width="0.2"/>
<path d="M559.6 189.7V201.4" stroke="#262626" stroke-width="0.72"/>
<rect x="558.4" y="191.1" width="2.4" height="1.4" fill="#b81c1c" stroke="#2a1a1a" stroke-width="0.2"/>
<path d="M563.7 190.1V199.4" stroke="#262626" stroke-width="0.72"/>
<rect x="562.5" y="191.1" width="2.4" height="7.6" fill="#b81c1c" stroke="#2a1a1a" stroke-width="0.2"/>
<path d="M567.7 183.9V204.5" stroke="#262626" stroke-width="0.72"/>
<rect x="566.5" y="189.1" width="2.4" height="9.7" fill="#1d5a1d" stroke="#2a1a1a" stroke-width="0.2"/>
<path d="M571.8 183.9V190.1" stroke="#262626" stroke-width="0.72"/>
<rect x="570.6" y="188.5" width="2.4" height="1.2" fill="#1d5a1d" stroke="#2a1a1a" stroke-width="0.2"/>
<path d="M575.9 184.3V192.2" stroke="#262626" stroke-width="0.72"/>
<rect x="574.7" y="185.6" width="2.4" height="4.1" fill="#1d5a1d" stroke="#2a1a1a" stroke-width="0.2"/>
<path d="M579.9 183.9V190.1" stroke="#262626" stroke-width="0.72"/>
<rect x="578.7" y="185.6" width="2.4" height="2.9" fill="#b81c1c" stroke="#2a1a1a" stroke-width="0.2"/>
<path d="M584.0 183.5V195.3" stroke="#262626" stroke-width="0.72"/>
<rect x="582.8" y="184.3" width="2.4" height="4.7" fill="#1d5a1d" stroke="#2a1a1a" stroke-width="0.2"/>
<path d="M588.1 179.8V192.2" stroke="#262626" stroke-width="0.72"/>
<rect x="586.9" y="184.3" width="2.4" height="6.8" fill="#b81c1c" stroke="#2a1a1a" stroke-width="0.2"/>
<path d="M592.2 183.9V191.8" stroke="#262626" stroke-width="0.72"/>
<rect x="591.0" y="186.4" width="2.4" height="4.7" fill="#1d5a1d" stroke="#2a1a1a" stroke-width="0.2"/>
<path d="M596.2 181.9V188.0" stroke="#262626" stroke-width="0.72"/>
<rect x="595.0" y="184.9" width="2.4" height="2.1" fill="#1d5a1d" stroke="#2a1a1a" stroke-width="0.2"/>
<path d="M600.3 183.9V197.9" stroke="#262626" stroke-width="0.72"/>
<rect x="599.1" y="184.9" width="2.4" height="10.3" fill="#b81c1c" stroke="#2a1a1a" stroke-width="0.2"/>
<path d="M604.4 192.2V205.5" stroke="#262626" stroke-width="0.72"/>
<rect x="603.2" y="195.3" width="2.4" height="9.6" fill="#b81c1c" stroke="#2a1a1a" stroke-width="0.2"/>
<path d="M608.4 201.2V249.6" stroke="#262626" stroke-width="0.72"/>
<rect x="607.2" y="204.3" width="2.4" height="44.7" fill="#b81c1c" stroke="#2a1a1a" stroke-width="0.2"/>
<path d="M612.5 233.1V256.9" stroke="#262626" stroke-width="0.72"/>
<rect x="611.3" y="247.6" width="2.4" height="2.1" fill="#b81c1c" stroke="#2a1a1a" stroke-width="0.2"/>
<path d="M616.6 246.5V332.1" stroke="#262626" stroke-width="0.72"/>
<rect x="615.4" y="249.0" width="2.4" height="40.2" fill="#b81c1c" stroke="#2a1a1a" stroke-width="0.2"/>
<path d="M620.6 265.1V296.0" stroke="#262626" stroke-width="0.72"/>
<rect x="619.4" y="267.8" width="2.4" height="22.0" fill="#1d5a1d" stroke="#2a1a1a" stroke-width="0.2"/>
<path d="M624.7 262.0V309.4" stroke="#262626" stroke-width="0.72"/>
<rect x="623.5" y="268.2" width="2.4" height="18.5" fill="#b81c1c" stroke="#2a1a1a" stroke-width="0.2"/>
<path d="M628.8 266.1V295.0" stroke="#262626" stroke-width="0.72"/>
<rect x="627.6" y="272.3" width="2.4" height="14.4" fill="#1d5a1d" stroke="#2a1a1a" stroke-width="0.2"/>
<path d="M632.9 261.4V278.5" stroke="#262626" stroke-width="0.72"/>
<rect x="631.6" y="263.5" width="2.4" height="9.5" fill="#1d5a1d" stroke="#2a1a1a" stroke-width="0.2"/>
<path d="M636.9 238.7V277.5" stroke="#262626" stroke-width="0.72"/>
<rect x="635.7" y="264.1" width="2.4" height="2.1" fill="#b81c1c" stroke="#2a1a1a" stroke-width="0.2"/>
<path d="M641.0 247.6V272.9" stroke="#262626" stroke-width="0.72"/>
<rect x="639.8" y="249.6" width="2.4" height="15.5" fill="#1d5a1d" stroke="#2a1a1a" stroke-width="0.2"/>
<path d="M645.1 245.5V251.1" stroke="#262626" stroke-width="0.72"/>
<rect x="643.9" y="246.5" width="2.4" height="3.7" fill="#1d5a1d" stroke="#2a1a1a" stroke-width="0.2"/>
<path d="M649.1 232.1V249.6" stroke="#262626" stroke-width="0.72"/>
<rect x="647.9" y="233.1" width="2.4" height="13.8" fill="#1d5a1d" stroke="#2a1a1a" stroke-width="0.2"/>
<path d="M653.2 228.0V237.3" stroke="#262626" stroke-width="0.72"/>
<rect x="652.0" y="230.5" width="2.4" height="2.7" fill="#1d5a1d" stroke="#2a1a1a" stroke-width="0.2"/>
<path d="M657.3 207.8V232.1" stroke="#262626" stroke-width="0.72"/>
<rect x="656.1" y="214.0" width="2.4" height="17.1" fill="#1d5a1d" stroke="#2a1a1a" stroke-width="0.2"/>
<path d="M661.3 206.3V216.6" stroke="#262626" stroke-width="0.72"/>
<rect x="660.1" y="211.5" width="2.4" height="2.5" fill="#1d5a1d" stroke="#2a1a1a" stroke-width="0.2"/>
<path d="M665.4 203.7V213.1" stroke="#262626" stroke-width="0.72"/>
<rect x="664.2" y="207.4" width="2.4" height="3.7" fill="#1d5a1d" stroke="#2a1a1a" stroke-width="0.2"/>
<path d="M669.5 206.3V215.6" stroke="#262626" stroke-width="0.72"/>
<rect x="668.3" y="207.8" width="2.4" height="6.8" fill="#b81c1c" stroke="#2a1a1a" stroke-width="0.2"/>
<path d="M673.6 213.6V230.1" stroke="#262626" stroke-width="0.72"/>
<rect x="672.4" y="214.6" width="2.4" height="10.9" fill="#b81c1c" stroke="#2a1a1a" stroke-width="0.2"/>
<path d="M677.6 223.9V236.2" stroke="#262626" stroke-width="0.72"/>
<rect x="676.4" y="225.5" width="2.4" height="9.7" fill="#b81c1c" stroke="#2a1a1a" stroke-width="0.2"/>
<path d="M681.7 232.1V239.3" stroke="#262626" stroke-width="0.72"/>
<rect x="680.5" y="233.8" width="2.4" height="1.4" fill="#b81c1c" stroke="#2a1a1a" stroke-width="0.2"/>
<path d="M685.8 226.3V252.3" stroke="#262626" stroke-width="0.72"/>
<rect x="684.6" y="228.0" width="2.4" height="6.6" fill="#1d5a1d" stroke="#2a1a1a" stroke-width="0.2"/>
<path d="M689.8 222.8V236.2" stroke="#262626" stroke-width="0.72"/>
<rect x="688.6" y="227.0" width="2.4" height="1.4" fill="#1d5a1d" stroke="#2a1a1a" stroke-width="0.2"/>
<path d="M693.9 226.3V233.8" stroke="#262626" stroke-width="0.72"/>
<rect x="692.7" y="227.6" width="2.4" height="5.6" fill="#b81c1c" stroke="#2a1a1a" stroke-width="0.2"/>
<path d="M698.0 231.7V239.3" stroke="#262626" stroke-width="0.72"/>
<rect x="696.8" y="233.1" width="2.4" height="1.4" fill="#b81c1c" stroke="#2a1a1a" stroke-width="0.2"/>
<path d="M702.0 227.0V236.2" stroke="#262626" stroke-width="0.72"/>
<rect x="700.8" y="230.1" width="2.4" height="5.2" fill="#1d5a1d" stroke="#2a1a1a" stroke-width="0.2"/>
<path d="M706.1 219.3V231.7" stroke="#262626" stroke-width="0.72"/>
<rect x="704.9" y="222.8" width="2.4" height="7.6" fill="#1d5a1d" stroke="#2a1a1a" stroke-width="0.2"/>
<path d="M710.2 221.8V239.3" stroke="#262626" stroke-width="0.72"/>
<rect x="709.0" y="222.8" width="2.4" height="15.9" fill="#b81c1c" stroke="#2a1a1a" stroke-width="0.2"/>
<path d="M714.2 233.1V244.5" stroke="#262626" stroke-width="0.72"/>
<rect x="713.0" y="238.3" width="2.4" height="2.1" fill="#b81c1c" stroke="#2a1a1a" stroke-width="0.2"/>
<path d="M718.3 237.3V306.3" stroke="#262626" stroke-width="0.72"/>
<rect x="717.1" y="240.0" width="2.4" height="60.1" fill="#b81c1c" stroke="#2a1a1a" stroke-width="0.2"/>
<path d="M722.4 299.1V321.8" stroke="#262626" stroke-width="0.72"/>
<rect x="721.2" y="299.5" width="2.4" height="15.1" fill="#b81c1c" stroke="#2a1a1a" stroke-width="0.2"/>
<path d="M726.5 313.5V349.6" stroke="#262626" stroke-width="0.72"/>
<rect x="725.3" y="314.6" width="2.4" height="23.7" fill="#b81c1c" stroke="#2a1a1a" stroke-width="0.2"/>
<path d="M730.5 335.2V340.4" stroke="#262626" stroke-width="0.72"/>
<rect x="729.3" y="336.2" width="2.4" height="2.5" fill="#1d5a1d" stroke="#2a1a1a" stroke-width="0.2"/>
<path d="M734.6 316.0V342.8" stroke="#262626" stroke-width="0.72"/>
<rect x="733.4" y="326.9" width="2.4" height="10.3" fill="#1d5a1d" stroke="#2a1a1a" stroke-width="0.2"/>
<path d="M738.7 318.7V338.3" stroke="#262626" stroke-width="0.72"/>
<rect x="737.5" y="327.6" width="2.4" height="6.2" fill="#b81c1c" stroke="#2a1a1a" stroke-width="0.2"/>
<path d="M742.7 322.8V334.6" stroke="#262626" stroke-width="0.72"/>
<rect x="741.5" y="326.9" width="2.4" height="6.8" fill="#1d5a1d" stroke="#2a1a1a" stroke-width="0.2"/>
<path d="M746.8 311.1V328.4" stroke="#262626" stroke-width="0.72"/>
<rect x="745.6" y="313.5" width="2.4" height="14.0" fill="#1d5a1d" stroke="#2a1a1a" stroke-width="0.2"/>
<path d="M750.9 312.5V334.6" stroke="#262626" stroke-width="0.72"/>
<rect x="749.7" y="313.5" width="2.4" height="14.0" fill="#b81c1c" stroke="#2a1a1a" stroke-width="0.2"/>
<path d="M755.0 319.7V334.2" stroke="#262626" stroke-width="0.72"/>
<rect x="753.8" y="326.3" width="2.4" height="2.7" fill="#b81c1c" stroke="#2a1a1a" stroke-width="0.2"/>
<path d="M759.0 311.5V336.6" stroke="#262626" stroke-width="0.72"/>
<rect x="757.8" y="314.6" width="2.4" height="14.4" fill="#1d5a1d" stroke="#2a1a1a" stroke-width="0.2"/>
<path d="M763.1 314.6V338.3" stroke="#262626" stroke-width="0.72"/>
<rect x="761.9" y="315.2" width="2.4" height="7.6" fill="#b81c1c" stroke="#2a1a1a" stroke-width="0.2"/>
<path d="M767.2 318.1V323.4" stroke="#262626" stroke-width="0.72"/>
<rect x="766.0" y="319.7" width="2.4" height="2.5" fill="#1d5a1d" stroke="#2a1a1a" stroke-width="0.2"/>
<path d="M771.2 311.5V322.8" stroke="#262626" stroke-width="0.72"/>
<rect x="770.0" y="316.6" width="2.4" height="5.2" fill="#1d5a1d" stroke="#2a1a1a" stroke-width="0.2"/>
<path d="M775.3 314.6V320.8" stroke="#262626" stroke-width="0.72"/>
<rect x="774.1" y="316.6" width="2.4" height="1.4" fill="#1d5a1d" stroke="#2a1a1a" stroke-width="0.2"/>
<path d="M779.4 309.4V318.7" stroke="#262626" stroke-width="0.72"/>
<rect x="778.2" y="310.5" width="2.4" height="7.2" fill="#1d5a1d" stroke="#2a1a1a" stroke-width="0.2"/>
<path d="M783.4 300.8V311.5" stroke="#262626" stroke-width="0.72"/>
<rect x="782.2" y="302.2" width="2.4" height="8.2" fill="#1d5a1d" stroke="#2a1a1a" stroke-width="0.2"/>
<path d="M787.5 292.9V303.2" stroke="#262626" stroke-width="0.72"/>
<rect x="786.3" y="298.7" width="2.4" height="3.5" fill="#1d5a1d" stroke="#2a1a1a" stroke-width="0.2"/>
<path d="M791.6 296.0V305.0" stroke="#262626" stroke-width="0.72"/>
<rect x="790.4" y="298.3" width="2.4" height="5.3" fill="#b81c1c" stroke="#2a1a1a" stroke-width="0.2"/>
<path d="M795.7 302.0V313.0" stroke="#262626" stroke-width="0.72"/>
<rect x="794.5" y="303.6" width="2.4" height="6.1" fill="#b81c1c" stroke="#2a1a1a" stroke-width="0.2"/>
<path d="M799.7 277.0V310.0" stroke="#262626" stroke-width="0.72"/>
<rect x="798.5" y="284.2" width="2.4" height="25.5" fill="#1d5a1d" stroke="#2a1a1a" stroke-width="0.2"/>
<path d="M803.8 268.7V310.8" stroke="#262626" stroke-width="0.72"/>
<rect x="802.6" y="270.9" width="2.4" height="13.3" fill="#1d5a1d" stroke="#2a1a1a" stroke-width="0.2"/>
</g>
<g stroke="#0a0a0a" stroke-width="1.85" stroke-linecap="butt" fill="none">
<path d="M1.5 68.85L278.9 62.0"/>
<path d="M1.5 132.85L331.9 100.6"/>
<path d="M177.7 64.7L621 185.5"/>
<path d="M616.35 332.5L673.6 198.8"/>
<path d="M726.2 350.3L836.5 292.5"/>
</g>
<g fill="none">
<path d="M2 419.0H952" stroke="#cdcdcd" stroke-width="0.9" stroke-dasharray="1.3 1.77"/>
<path d="M2 426.9H952" stroke="#cdcdcd" stroke-width="0.9" stroke-dasharray="1.3 1.77"/>
<path d="M2 434.6H952" stroke="#cdcdcd" stroke-width="0.9" stroke-dasharray="1.3 1.77"/>
<polyline points="1.4,428.0 5.7,426.8 11.5,426.8 17.2,428.0 20.1,427.4 24.4,431.4 28.7,433.1 34.5,432.3 40.2,430.8 46.0,430.3 51.7,428.5 57.4,427.4 63.2,425.1 68.9,423.1 74.7,422.2 79.0,423.7 83.3,425.1 87.6,423.7 94.8,422.2 100.5,420.8 109.1,420.8 114.9,421.4 120.6,420.2 126.4,420.8 132.1,418.8 137.9,419.9 143.6,418.5 149.3,419.4 156.5,418.5 163.7,417.3 172.3,417.3 178.1,420.8 183.8,419.4 192.4,419.9 195.3,425.1 199.6,431.4 204.5,434.3 209.6,431.4 214.0,430.8 216.8,432.3 221.1,429.4 226.9,425.1 232.6,424.5 236.9,425.1 241.2,424.5 245.5,428.5 249.9,430.3 254.2,428.5 261.3,428.8 265.7,433.1 272.8,433.1 275.7,432.9 282.9,433.7 290.1,437.5 295.8,434.6 301.6,435.4 310.2,437.2 317.4,437.7 323.1,433.7 327.4,430.8 331.7,431.4 337.5,427.4 343.2,425.7 349.0,423.7 354.7,425.1 360.5,427.1 367.6,425.1 373.4,424.0 380.6,425.1 384.9,426.3 389.2,424.5 396.4,424.5 402.1,425.7 406.4,428.0 412.2,426.5 416.5,429.4 420.8,428.5 426.5,430.3 430.8,432.3 436.6,430.3 442.3,431.4 446.6,433.7 453.8,435.7 459.5,432.3 465.3,430.3 471.0,432.3 476.8,432.6 482.5,432.6 488.3,428.5 494.0,425.7 498.3,425.7 502.6,428.0 506.9,426.5 511.2,427.1 514.1,425.7 518.4,430.8 525.6,431.4 531.3,430.8 538.5,430.8 540.0,430.3 544.3,428.0 551.5,428.0 557.2,428.8 563.0,429.7 568.7,427.4 575.9,426.5 583.1,426.3 587.4,427.4 593.1,426.3 597.4,427.4 603.2,430.8 607.5,436.0 611.8,436.6 616.1,438.9 620.4,434.3 624.7,435.2 629.0,433.1 633.3,431.4 636.2,432.6 640.5,430.0 646.3,428.5 652.0,426.8 657.7,424.5 664.9,423.7 670.7,425.7 676.4,427.4 680.7,428.0 686.5,426.8 692.2,427.1 696.5,428.0 700.8,426.8 705.1,425.7 709.4,428.0 713.8,428.5 718.1,433.7 723.8,436.0 728.1,437.2 735.3,434.9 738.2,436.0 742.5,434.3 746.8,432.6 752.5,433.1 758.3,430.8 762.6,431.4 766.9,430.8 775.5,430.8 781.2,429.1 787.0,427.4 791.3,428.0 795.6,429.1 799.9,425.1 803.6,422.8" stroke="#484848" stroke-width="0.9" stroke-linejoin="round"/>
</g>
<g class="t h">
<rect x="952.6" y="17.7" width="0.9" height="0.9" fill="#333"/>
<text x="955.1" y="19.9" textLength="16.4" lengthAdjust="spacingAndGlyphs">153.685</text>
<rect x="952.6" y="34.5" width="0.9" height="0.9" fill="#333"/>
<text x="955.1" y="36.7" textLength="16.4" lengthAdjust="spacingAndGlyphs">153.040</text>
<rect x="952.6" y="51.4" width="0.9" height="0.9" fill="#333"/>
<text x="955.1" y="53.5" textLength="16.4" lengthAdjust="spacingAndGlyphs">152.395</text>
<rect x="952.6" y="68.2" width="0.9" height="0.9" fill="#333"/>
<text x="955.1" y="70.3" textLength="16.4" lengthAdjust="spacingAndGlyphs">151.750</text>
<rect x="952.6" y="85.0" width="0.9" height="0.9" fill="#333"/>
<text x="955.1" y="87.2" textLength="16.4" lengthAdjust="spacingAndGlyphs">151.105</text>
<rect x="952.6" y="101.8" width="0.9" height="0.9" fill="#333"/>
<text x="955.1" y="104.0" textLength="16.4" lengthAdjust="spacingAndGlyphs">150.460</text>
<rect x="952.6" y="118.7" width="0.9" height="0.9" fill="#333"/>
<text x="955.1" y="120.8" textLength="16.4" lengthAdjust="spacingAndGlyphs">149.815</text>
<rect x="952.6" y="135.5" width="0.9" height="0.9" fill="#333"/>
<text x="955.1" y="137.6" textLength="16.4" lengthAdjust="spacingAndGlyphs">149.170</text>
<rect x="952.6" y="152.3" width="0.9" height="0.9" fill="#333"/>
<text x="955.1" y="154.5" textLength="16.4" lengthAdjust="spacingAndGlyphs">148.525</text>
<rect x="952.6" y="169.1" width="0.9" height="0.9" fill="#333"/>
<text x="955.1" y="171.3" textLength="16.4" lengthAdjust="spacingAndGlyphs">147.880</text>
<rect x="952.6" y="186.0" width="0.9" height="0.9" fill="#333"/>
<text x="955.1" y="188.1" textLength="16.4" lengthAdjust="spacingAndGlyphs">147.235</text>
<rect x="952.6" y="202.8" width="0.9" height="0.9" fill="#333"/>
<text x="955.1" y="204.9" textLength="16.4" lengthAdjust="spacingAndGlyphs">146.590</text>
<rect x="952.6" y="219.6" width="0.9" height="0.9" fill="#333"/>
<text x="955.1" y="221.8" textLength="16.4" lengthAdjust="spacingAndGlyphs">145.960</text>
<rect x="952.6" y="236.4" width="0.9" height="0.9" fill="#333"/>
<text x="955.1" y="238.6" textLength="16.4" lengthAdjust="spacingAndGlyphs">145.315</text>
<rect x="952.6" y="253.3" width="0.9" height="0.9" fill="#333"/>
<text x="955.1" y="255.4" textLength="16.4" lengthAdjust="spacingAndGlyphs">144.670</text>
<rect x="952.6" y="270.1" width="0.9" height="0.9" fill="#333"/>
<text x="955.1" y="272.2" textLength="16.4" lengthAdjust="spacingAndGlyphs">144.025</text>
<rect x="952.6" y="286.9" width="0.9" height="0.9" fill="#333"/>
<text x="955.1" y="289.1" textLength="16.4" lengthAdjust="spacingAndGlyphs">143.380</text>
<rect x="952.6" y="303.7" width="0.9" height="0.9" fill="#333"/>
<text x="955.1" y="305.9" textLength="16.4" lengthAdjust="spacingAndGlyphs">142.735</text>
<rect x="952.6" y="320.6" width="0.9" height="0.9" fill="#333"/>
<text x="955.1" y="322.7" textLength="16.4" lengthAdjust="spacingAndGlyphs">142.090</text>
<rect x="952.6" y="337.4" width="0.9" height="0.9" fill="#333"/>
<text x="955.1" y="339.0" textLength="16.4" lengthAdjust="spacingAndGlyphs" opacity="0.45">141.445</text>
<rect x="952.6" y="354.2" width="0.9" height="0.9" fill="#333"/>
<text x="955.1" y="356.4" textLength="16.4" lengthAdjust="spacingAndGlyphs">140.800</text>
<rect x="952.6" y="371.0" width="0.9" height="0.9" fill="#333"/>
<text x="955.1" y="373.2" textLength="16.4" lengthAdjust="spacingAndGlyphs">140.155</text>
<rect x="952.6" y="387.9" width="0.9" height="0.9" fill="#333"/>
<text x="955.1" y="390.0" textLength="16.4" lengthAdjust="spacingAndGlyphs">139.510</text>
<rect x="952.6" y="404.7" width="0.9" height="0.9" fill="#333"/>
<text x="955.1" y="406.8" textLength="16.4" lengthAdjust="spacingAndGlyphs">138.865</text>
<text x="954.5" y="412.9">100</text>
<text x="954.5" y="420.7">70</text>
<text x="954.5" y="428.5">50</text>
<text x="954.5" y="436.2">30</text>
<text x="954.5" y="443.7">0</text>
</g>
<rect x="952.4" y="156.0" width="21.4" height="5" fill="#e01818"/>
<text class="bx" x="955.3" y="160.2" textLength="16" lengthAdjust="spacingAndGlyphs">148.300</text>
<rect x="952.4" y="208.1" width="21.4" height="5" fill="#e01818"/>
<text class="bx" x="955.3" y="212.3" textLength="16" lengthAdjust="spacingAndGlyphs">146.300</text>
<rect x="952.4" y="256.3" width="21.4" height="5" fill="#e01818"/>
<text class="bx" x="955.3" y="260.5" textLength="16" lengthAdjust="spacingAndGlyphs">144.450</text>
<rect x="952.4" y="268.0" width="21.4" height="5" fill="#111"/>
<text class="bx" x="955.3" y="272.2" textLength="16" lengthAdjust="spacingAndGlyphs">144.001</text>
<rect x="952.4" y="294.1" width="21.4" height="5" fill="#126612"/>
<text class="bx" x="955.3" y="298.3" textLength="16" lengthAdjust="spacingAndGlyphs">143.000</text>
<rect x="952.4" y="333.1" width="21.4" height="5" fill="#126612"/>
<text class="bx" x="955.3" y="337.3" textLength="16" lengthAdjust="spacingAndGlyphs">141.500</text>
<rect x="952.4" y="378.7" width="21.4" height="5" fill="#126612"/>
<text class="bx" x="955.3" y="382.9" textLength="16" lengthAdjust="spacingAndGlyphs">139.750</text>
<text class="b" x="949.5" y="154.5" text-anchor="end" fill="#c4272b" stroke="#c4272b" stroke-width="0.22">R3 - 148.30</text>
<text class="b" x="950.9" y="206.3" text-anchor="end" fill="#c4272b" stroke="#c4272b" stroke-width="0.22">R2 - 146.30</text>
<text class="b" x="950.3" y="254.4" text-anchor="end" fill="#c4272b" stroke="#c4272b" stroke-width="0.22">R1 - 144.45</text>
<text class="b" x="950.5" y="310.6" text-anchor="end" fill="#2e7032" stroke="#2e7032" stroke-width="0.22">S1 - 143.00</text>
<text class="b" x="949.7" y="350.7" text-anchor="end" fill="#2e7032" stroke="#2e7032" stroke-width="0.22">S2 - 141.50</text>
<text class="b" x="948.5" y="395.4" text-anchor="end" fill="#2e7032" stroke="#2e7032" stroke-width="0.22">S3 - 139.75</text>
<path d="M3.6 4.2h3.2l-1.6 2z" fill="#111"/>
<text class="t h" x="9.0" y="7.4" textLength="26.4" lengthAdjust="spacingAndGlyphs">USDJPY,H4</text>
<text class="t h" x="38.0" y="7.4" textLength="16.5" lengthAdjust="spacingAndGlyphs">143.491</text>
<text class="t h" x="56.6" y="7.4" textLength="16.4" lengthAdjust="spacingAndGlyphs">144.075</text>
<text class="t h" x="75.2" y="7.4" textLength="16.2" lengthAdjust="spacingAndGlyphs">142.498</text>
<text class="t h" x="93.6" y="7.4" textLength="16.0" lengthAdjust="spacingAndGlyphs">144.001</text>
<text class="t h" x="3.8" y="413.7" textLength="34.3" lengthAdjust="spacingAndGlyphs">RSI(14) 59.0586</text>
<g class="t h">
<path d="M1.6 445.5v1.8" stroke="#444" stroke-width="0.7"/>
<text x="1.4" y="452.1">2 Nov 2023</text>
<path d="M34.2 445.5v1.8" stroke="#444" stroke-width="0.7"/>
<text x="34.0" y="452.1">3 Nov 20:00</text>
<path d="M66.8 445.5v1.8" stroke="#444" stroke-width="0.7"/>
<text x="66.6" y="452.1">7 Nov 04:00</text>
<path d="M99.4 445.5v1.8" stroke="#444" stroke-width="0.7"/>
<text x="99.2" y="452.1">8 Nov 12:00</text>
<path d="M132.0 445.5v1.8" stroke="#444" stroke-width="0.7"/>
<text x="131.8" y="452.1">9 Nov 20:00</text>
<path d="M164.6 445.5v1.8" stroke="#444" stroke-width="0.7"/>
<text x="164.4" y="452.1">13 Nov 04:00</text>
<path d="M197.1 445.5v1.8" stroke="#444" stroke-width="0.7"/>
<text x="196.9" y="452.1">14 Nov 12:00</text>
<path d="M229.7 445.5v1.8" stroke="#444" stroke-width="0.7"/>
<text x="229.5" y="452.1">15 Nov 20:00</text>
<path d="M262.3 445.5v1.8" stroke="#444" stroke-width="0.7"/>
<text x="262.1" y="452.1">17 Nov 04:00</text>
<path d="M294.9 445.5v1.8" stroke="#444" stroke-width="0.7"/>
<text x="294.7" y="452.1">20 Nov 12:00</text>
<path d="M327.5 445.5v1.8" stroke="#444" stroke-width="0.7"/>
<text x="327.3" y="452.1">21 Nov 20:00</text>
<path d="M360.1 445.5v1.8" stroke="#444" stroke-width="0.7"/>
<text x="359.9" y="452.1">23 Nov 04:00</text>
<path d="M392.7 445.5v1.8" stroke="#444" stroke-width="0.7"/>
<text x="392.5" y="452.1">24 Nov 12:00</text>
<path d="M425.3 445.5v1.8" stroke="#444" stroke-width="0.7"/>
<text x="425.1" y="452.1">27 Nov 20:00</text>
<path d="M457.9 445.5v1.8" stroke="#444" stroke-width="0.7"/>
<text x="457.7" y="452.1">29 Nov 04:00</text>
<path d="M490.5 445.5v1.8" stroke="#444" stroke-width="0.7"/>
<text x="490.3" y="452.1">30 Nov 12:00</text>
<path d="M523.0 445.5v1.8" stroke="#444" stroke-width="0.7"/>
<text x="522.8" y="452.1">1 Dec 20:00</text>
<path d="M555.6 445.5v1.8" stroke="#444" stroke-width="0.7"/>
<text x="555.4" y="452.1">5 Dec 04:00</text>
<path d="M588.2 445.5v1.8" stroke="#444" stroke-width="0.7"/>
<text x="588.0" y="452.1">6 Dec 12:00</text>
<path d="M620.8 445.5v1.8" stroke="#444" stroke-width="0.7"/>
<text x="620.6" y="452.1">7 Dec 20:00</text>
<path d="M653.4 445.5v1.8" stroke="#444" stroke-width="0.7"/>
<text x="653.2" y="452.1">11 Dec 04:00</text>
<path d="M686.0 445.5v1.8" stroke="#444" stroke-width="0.7"/>
<text x="685.8" y="452.1">12 Dec 12:00</text>
<path d="M718.6 445.5v1.8" stroke="#444" stroke-width="0.7"/>
<text x="718.4" y="452.1">13 Dec 20:00</text>
<path d="M751.2 445.5v1.8" stroke="#444" stroke-width="0.7"/>
<text x="751.0" y="452.1">15 Dec 04:00</text>
<path d="M783.8 445.5v1.8" stroke="#444" stroke-width="0.7"/>
<text x="783.6" y="452.1">18 Dec 12:00</text>
</g>
</svg>
</body></html>
